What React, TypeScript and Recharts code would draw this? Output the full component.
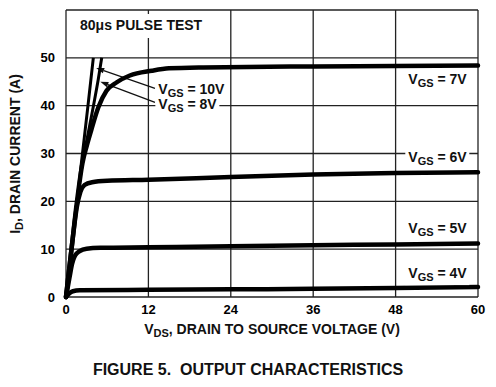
import React from 'react';
import {
  LineChart,
  Line,
  XAxis,
  YAxis,
  CartesianGrid,
  ReferenceLine,
  ReferenceDot,
  Label,
} from 'recharts';

// ---------- data ----------
const xTicks = [0, 12, 24, 36, 48, 60];
const yTicks = [0, 10, 20, 30, 40, 50, 60];
const yTickLabels = ['0', '10', '20', '30', '40', '50', ''];

const curve10V = [
  { vds: 0, id: 0 }, { vds: 0.8, id: 10 }, { vds: 1.6, id: 20 },
  { vds: 2.4, id: 30 }, { vds: 3.2, id: 40 }, { vds: 3.98, id: 50 },
];
const curve8V = [
  { vds: 0, id: 0 }, { vds: 0.8, id: 10 }, { vds: 1.6, id: 20 },
  { vds: 2.4, id: 28 }, { vds: 3.2, id: 34 }, { vds: 4.0, id: 40 }, { vds: 4.7, id: 45.5 }, { vds: 5.2, id: 50 },
];
const curve7V = [
  { vds: 0, id: 0 }, { vds: 0.8, id: 10 }, { vds: 1.6, id: 20 }, { vds: 2.4, id: 28 },
  { vds: 3.0, id: 31.5 }, { vds: 3.7, id: 35 }, { vds: 4.7, id: 39.6 }, { vds: 5.9, id: 43.1 },
  { vds: 7.4, id: 44.9 }, { vds: 9.3, id: 46.3 }, { vds: 12.5, id: 47.3 },
  { vds: 15, id: 47.8 }, { vds: 20, id: 48.0 }, { vds: 36, id: 48.2 }, { vds: 48, id: 48.3 },
  { vds: 60, id: 48.4 },
];
const curve6V = [
  { vds: 0, id: 0 }, { vds: 0.8, id: 10 }, { vds: 1.6, id: 19 }, { vds: 2.1, id: 22 },
  { vds: 2.7, id: 23.4 }, { vds: 3.8, id: 24.0 }, { vds: 6, id: 24.3 }, { vds: 12, id: 24.5 },
  { vds: 24, id: 25.1 }, { vds: 36, id: 25.6 }, { vds: 48, id: 25.9 }, { vds: 60, id: 26.1 },
];
const curve5V = [
  { vds: 0, id: 0 }, { vds: 0.5, id: 4 }, { vds: 0.9, id: 7 }, { vds: 1.3, id: 8.6 },
  { vds: 2, id: 9.6 }, { vds: 3, id: 10.1 }, { vds: 5, id: 10.3 }, { vds: 12, id: 10.4 },
  { vds: 24, id: 10.6 }, { vds: 36, id: 10.8 }, { vds: 48, id: 11.0 }, { vds: 60, id: 11.2 },
];
const curve4V = [
  { vds: 0, id: 0 }, { vds: 0.5, id: 0.8 }, { vds: 1, id: 1.2 }, { vds: 2, id: 1.4 },
  { vds: 12, id: 1.5 }, { vds: 24, id: 1.6 }, { vds: 36, id: 1.7 }, { vds: 48, id: 1.9 },
  { vds: 60, id: 2.1 },
];

// curve labels (anchor in data units: left edge / vertical centre)
const gsLabelText = ['10V', '8V', '7V', '6V', '5V', '4V'];
const gsLabelVds = [13.45, 13.45, 49.85, 49.85, 49.85, 49.85];
const gsLabelId = [43.1, 39.9, 45.2, 28.75, 13.96, 4.58];

// arrows: tail -> tip
const arrowTails = [{ vds: 12.96, id: 43.6 }, { vds: 12.96, id: 40.7 }];
const arrowTips = [{ vds: 4.4, id: 47.9 }, { vds: 5.0, id: 45.0 }];

// ---------- styles ----------
const FONT = '"Liberation Sans", Arial, Helvetica, sans-serif';
const INK = '#111';

const GsLabel = (props: any) => {
  const { cx, cy, value } = props;
  const w = value.length === 3 ? 68 : 60;
  return (
    <g>
      <rect x={cx - 3} y={cy - 9} width={w + 4} height={19} fill="#fff" />
      <text x={cx} y={cy + 3} fontFamily={FONT} fontSize={14} fontWeight="bold" fill={INK}>
        V
        <tspan fontSize={11} dy={3}>GS</tspan>
        <tspan dy={-3}>{' = ' + value}</tspan>
      </text>
    </g>
  );
};

const Arrow = (props: any) => {
  const { x1, y1, x2, y2 } = props;
  const dx = x2 - x1;
  const dy = y2 - y1;
  const len = Math.sqrt(dx * dx + dy * dy) || 1;
  const ux = dx / len;
  const uy = dy / len;
  const hl = 8;
  const hw = 2.8;
  const bx = x2 - ux * hl;
  const by = y2 - uy * hl;
  return (
    <g>
      <line x1={x1} y1={y1} x2={bx} y2={by} stroke={INK} strokeWidth={1.3} />
      <polygon
        points={`${x2},${y2} ${bx - uy * hw},${by + ux * hw} ${bx + uy * hw},${by - ux * hw}`}
        fill={INK}
      />
    </g>
  );
};

const tickStyle = { fill: '#000', fontSize: 13, fontWeight: 'bold', fontFamily: FONT };

export default function App() {
  return (
    <div style={{ position: 'absolute', left: 0, top: 0, width: 496, height: 387, background: '#fff' }}>
      <LineChart width={496} height={387} margin={{ top: 10, right: 18, bottom: 0, left: 0 }}>
        <CartesianGrid stroke="#222" strokeWidth={1.3} />
        <XAxis
          dataKey="vds"
          type="number"
          domain={[0, 60]}
          ticks={xTicks}
          height={90}
          axisLine={false}
          tickLine={false}
          tick={tickStyle}
          interval={0}
        >
          <Label
            content={() => (
              <g>
                <text x={272} y={334} textAnchor="middle" fontFamily={FONT} fontSize={14} fontWeight="bold" fill={INK}>
                  V<tspan fontSize={11} dy={3}>DS</tspan>
                  <tspan dy={-3}>, DRAIN TO SOURCE VOLTAGE (V)</tspan>
                </text>
                <text
                  x={248}
                  y={375}
                  textAnchor="middle"
                  fontFamily={FONT}
                  fontSize={16}
                  fontWeight="bold"
                  fill={INK}
                  style={{ whiteSpace: 'pre' }}
                  xmlSpace="preserve"
                >
                  {'FIGURE 5.  OUTPUT CHARACTERISTICS'}
                </text>
              </g>
            )}
          />
        </XAxis>
        <YAxis
          type="number"
          domain={[0, 60]}
          ticks={yTicks}
          width={66}
          axisLine={false}
          tickLine={false}
          tickMargin={5}
          tick={tickStyle}
          interval={0}
          tickFormatter={(v: number) => yTickLabels[yTicks.indexOf(v)] ?? String(v)}
        >
          <Label
            content={() => (
              <text
                x={20}
                y={154}
                transform="rotate(-90, 20, 154)"
                textAnchor="middle"
                fontFamily={FONT}
                fontSize={14}
                fontWeight="bold"
                fill={INK}
              >
                I<tspan fontSize={11} dy={3}>D</tspan>
                <tspan dy={-3}>, DRAIN CURRENT (A)</tspan>
              </text>
            )}
          />
        </YAxis>

        <ReferenceDot
          x={3.2}
          y={56}
          r={0}
          shape={(p: any) => (
            <g>
              <rect x={p.cx - 4} y={14} width={130} height={24} fill="#fff" />
            </g>
          )}
        />

        {gsLabelText.map((t, i) => (
          <ReferenceDot
            key={'lbl' + t}
            x={gsLabelVds[i]}
            y={gsLabelId[i]}
            r={0}
            shape={(p: any) => <GsLabel cx={p.cx} cy={p.cy} value={t} />}
          />
        ))}

        {arrowTails.map((t, i) => (
          <ReferenceLine
            key={'arr' + i}
            segment={[
              { x: t.vds, y: t.id },
              { x: arrowTips[i].vds, y: arrowTips[i].id },
            ]}
            shape={(p: any) => <Arrow {...p} />}
          />
        ))}

        <Line data={curve4V} dataKey="id" type="monotone" stroke="#000" strokeWidth={4.5} dot={false} isAnimationActive={false} strokeLinecap="round" />
        <Line data={curve5V} dataKey="id" type="monotone" stroke="#000" strokeWidth={4.5} dot={false} isAnimationActive={false} strokeLinecap="round" />
        <Line data={curve6V} dataKey="id" type="monotone" stroke="#000" strokeWidth={4.5} dot={false} isAnimationActive={false} strokeLinecap="round" />
        <Line data={curve7V} dataKey="id" type="monotone" stroke="#000" strokeWidth={4.5} dot={false} isAnimationActive={false} strokeLinecap="round" />
        <Line data={curve8V} dataKey="id" type="monotone" stroke="#000" strokeWidth={3} dot={false} isAnimationActive={false} />
        <Line data={curve10V} dataKey="id" type="monotone" stroke="#000" strokeWidth={3} dot={false} isAnimationActive={false} />
      </LineChart>
      <svg
        width={496}
        height={40}
        style={{ position: 'absolute', left: 0, top: 0, pointerEvents: 'none' }}
      >
        <text x={80} y={30} fontFamily={FONT} fontSize={14} fontWeight="bold" fill={INK}>
          80μs PULSE TEST
        </text>
      </svg>
    </div>
  );
}
